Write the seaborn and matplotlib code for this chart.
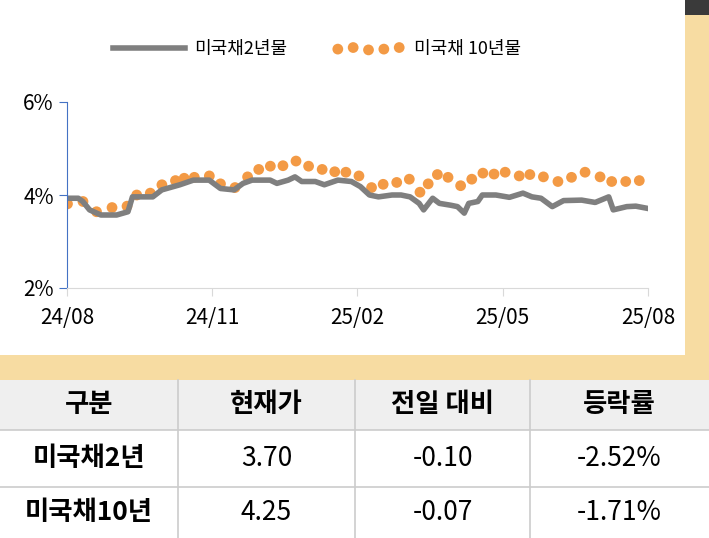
import matplotlib
matplotlib.use("Agg")
import matplotlib.pyplot as plt
import seaborn as sns
import pandas as pd
from matplotlib.patches import Rectangle

plt.rcParams["font.family"] = ["Noto Sans CJK KR", "Noto Sans CJK JP", "Noto Sans CJK SC", "DejaVu Sans"]

# months since 2024-08
t10_x = [0.01,0.33,0.61,0.93,1.24,1.44,1.72,1.96,2.24,2.42,2.63,2.94,3.17,3.47,3.73,3.96,4.20,4.46,4.73,4.99,5.27,5.53,5.76,6.03,6.29,6.53,6.81,7.07,7.29,7.46,7.65,7.87,8.13,8.36,8.59,8.82,9.05,9.34,9.56,9.84,10.14,10.42,10.70,11.01,11.25,11.54,11.82]
t10_y = [3.81,3.86,3.64,3.73,3.76,4.00,4.04,4.22,4.31,4.36,4.38,4.41,4.24,4.16,4.39,4.55,4.62,4.63,4.73,4.62,4.55,4.50,4.49,4.41,4.16,4.23,4.27,4.34,4.06,4.24,4.44,4.38,4.20,4.34,4.47,4.45,4.49,4.41,4.44,4.39,4.29,4.38,4.49,4.39,4.29,4.29,4.31]
t2_zx = [150,175,185,200,225,260,285,295,340,360,400,430,465,490,520,540,560,600,615,640,655,670,700,720,750,780,800,820,840,870,890,910,930,940,960,975,1000,1015,1030,1040,1060,1070,1100,1130,1160,1180,1200,1225,1250,1290,1320,1350,1360,1390,1410,1437]
t2_x = [(z - 150) / 107.25 for z in t2_zx]
t2_y = [3.93,3.93,3.86,3.68,3.57,3.57,3.64,3.96,3.96,4.11,4.22,4.32,4.32,4.14,4.11,4.25,4.32,4.32,4.25,4.32,4.39,4.29,4.29,4.22,4.32,4.29,4.18,4.00,3.96,4.00,4.00,3.96,3.82,3.68,3.93,3.82,3.78,3.75,3.61,3.82,3.86,4.00,4.00,3.95,4.04,3.96,3.93,3.75,3.88,3.89,3.84,3.96,3.68,3.75,3.76,3.71]
xticks = [0, 3, 6, 9, 12]
xlabels = ["24/08", "24/11", "25/02", "25/05", "25/08"]
yticks = [2, 4, 6]
ylabels = ["2%", "4%", "6%"]
legend_labels = ["미국채2년물", "미국채 10년물"]
header = ["구분", "현재가", "전일 대비", "등락률"]
rows = [["미국채2년", "3.70", "-0.10", "-2.52%"],
        ["미국채10년", "4.25", "-0.07", "-1.71%"]]

W, H = 709, 538
fig = plt.figure(figsize=(W/100, H/100), dpi=100)
fig.patch.set_facecolor("white")
tan = "#f7dca2"
def rect(x0, y0, x1, y1, color, z=0):
    fig.patches.append(Rectangle((x0/W, 1-y1/H), (x1-x0)/W, (y1-y0)/H,
                                 transform=fig.transFigure, color=color, zorder=z, lw=0))
rect(685, 15, 709, 380, tan)
rect(0, 355, 709, 380, tan)
rect(685, 0, 709, 15, "#3a3a3a")
rect(0, 380, 709, 538, "white")
rect(0, 380, 709, 430, "#efefef")

ax = fig.add_axes([67/W, 1-288/H, (648-67)/W, (288-102)/H])
ax.set_facecolor("none")
sns.lineplot(x=t2_x, y=t2_y, ax=ax, color="#7f7f7f", lw=4, label=legend_labels[0])
sns.scatterplot(x=t10_x, y=t10_y, ax=ax, color="#f39a45", s=60, edgecolor="none", label=legend_labels[1])
ax.set_xlim(0, 12); ax.set_ylim(2, 6)
ax.set_xticks(xticks); ax.set_xticklabels(xlabels, fontsize=15)
ax.set_yticks(yticks); ax.set_yticklabels(ylabels, fontsize=15)
for s in ["top", "right"]:
    ax.spines[s].set_visible(False)
ax.spines["left"].set_color("#4472c4")
ax.spines["bottom"].set_color("#d9d9d9")
ax.tick_params(axis="y", colors="#4472c4", labelcolor="black", length=6)
ax.tick_params(axis="x", colors="#d9d9d9", labelcolor="black", length=6, pad=8)
ax.legend(loc="lower center", bbox_to_anchor=(0.43, 1.15), ncol=2, frameon=False,
          fontsize=13, scatterpoints=5, handlelength=4, handletextpad=0.5, columnspacing=2.5)

# table
col_edges = [0, 178, 355, 530, 709]
row_edges = [380, 430, 487, 538]
for x in col_edges[1:-1]:
    fig.add_artist(plt.Line2D([x/W, x/W], [1-380/H, 0], color="#cccccc", lw=1.2))
for y in row_edges[1:-1]:
    fig.add_artist(plt.Line2D([0, 1], [1-y/H, 1-y/H], color="#cccccc", lw=1.2))
def cell(r, c, txt, bold):
    cx = (col_edges[c] + col_edges[c+1]) / 2
    cy = (row_edges[r] + row_edges[r+1]) / 2
    fig.text(cx/W, 1-cy/H, txt, ha="center", va="center", fontsize=19,
             fontweight="bold" if bold else "normal")
for c, h in enumerate(header):
    cell(0, c, h, True)
for r, row in enumerate(rows):
    for c, v in enumerate(row):
        cell(r+1, c, v, c == 0)

fig.savefig("out.png", dpi=100)
